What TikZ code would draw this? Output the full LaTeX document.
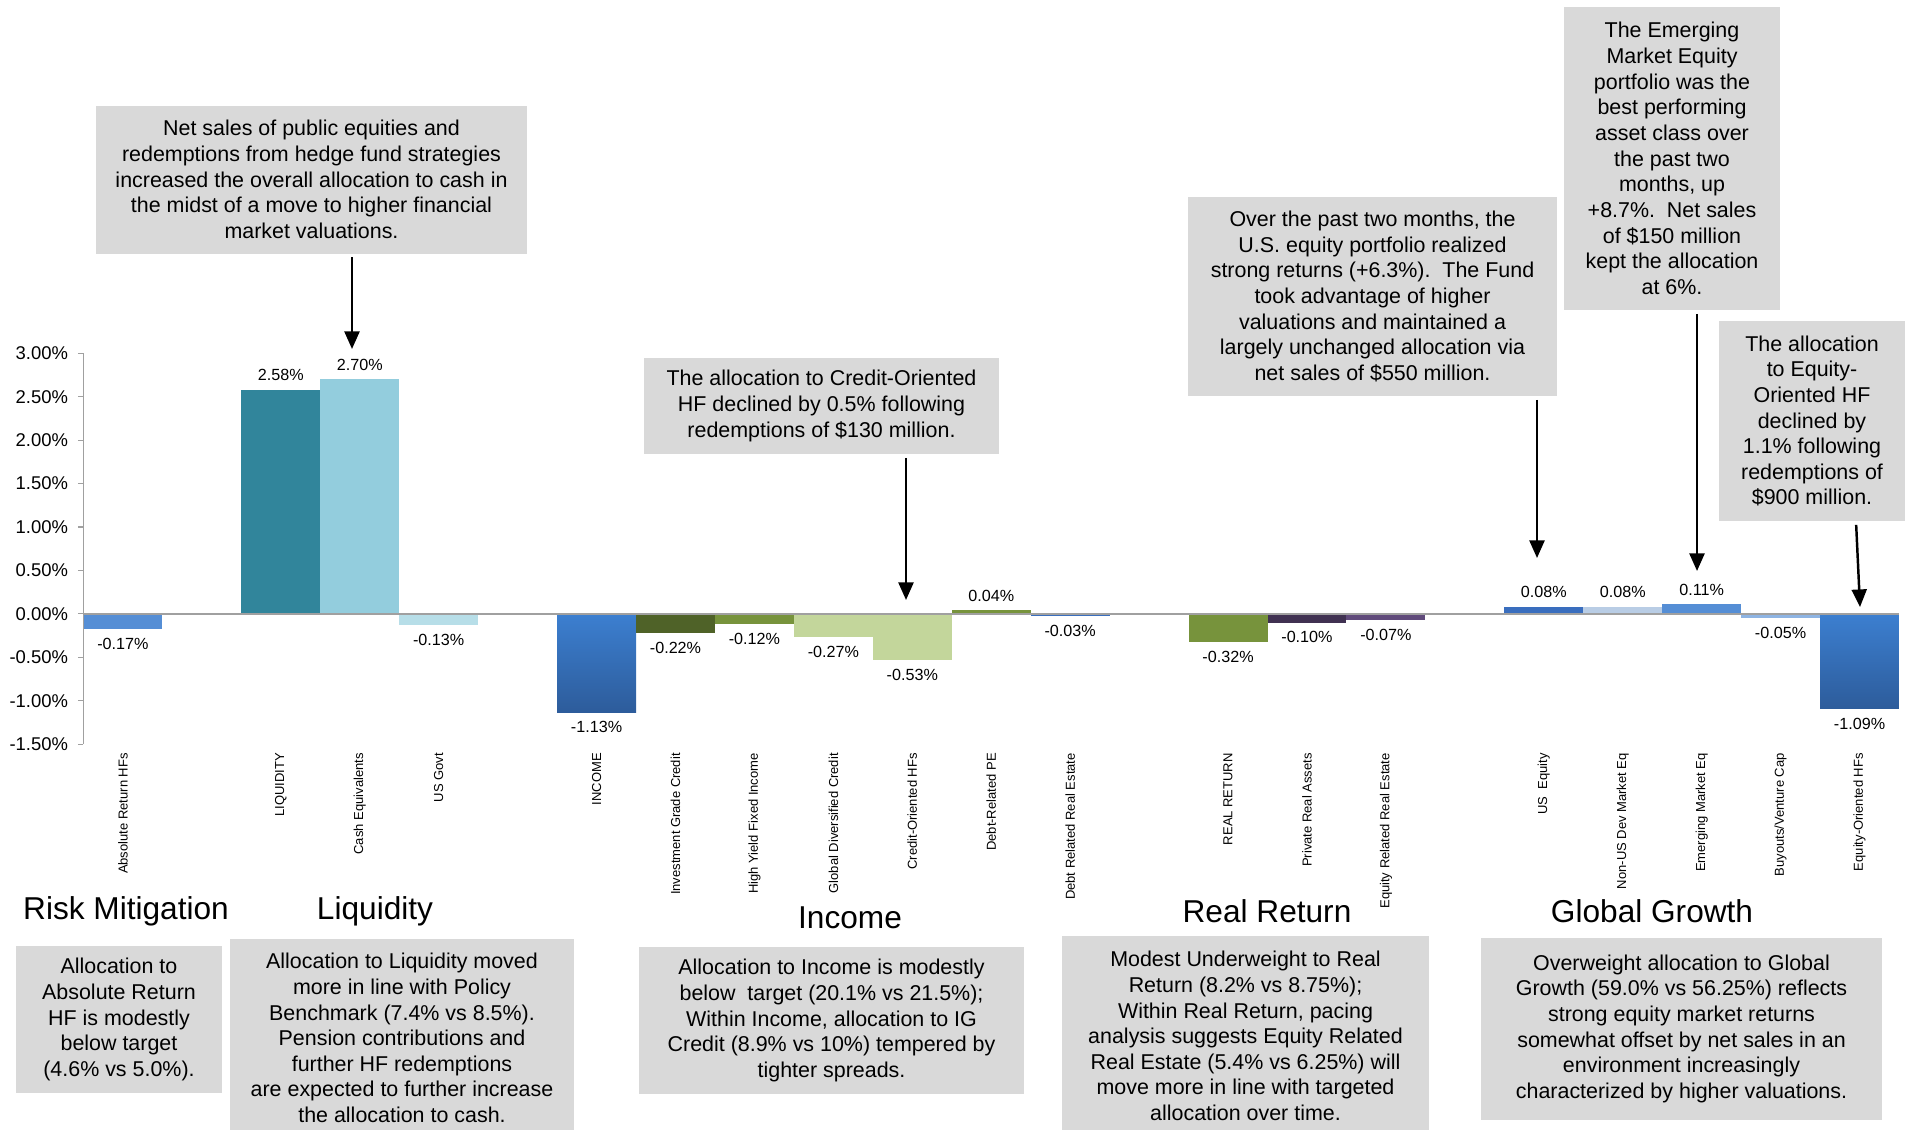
\documentclass[tikz,border=0pt]{standalone}
\usepackage{fontspec}
\setmainfont{Liberation Sans}
\usetikzlibrary{arrows.meta,positioning}
\definecolor{boxgray}{RGB}{217,217,217}
\definecolor{axisgray}{RGB}{160,160,160}
\definecolor{abscol}{RGB}{85,142,213}
\definecolor{liqcol}{RGB}{49,133,155}
\definecolor{cashcol}{RGB}{147,205,221}
\definecolor{govcol}{RGB}{183,222,232}
\definecolor{inctop}{RGB}{60,127,208}
\definecolor{incbot}{RGB}{45,92,155}
\definecolor{igcol}{RGB}{79,98,40}
\definecolor{hycol}{RGB}{119,147,60}
\definecolor{gdccol}{RGB}{195,214,155}
\definecolor{drecol}{RGB}{58,110,190}
\definecolor{pracol}{RGB}{64,49,81}
\definecolor{erecol}{RGB}{96,74,123}
\definecolor{nuscol}{RGB}{185,205,229}
\definecolor{bvcol}{RGB}{142,180,227}
\tikzset{
  callout/.style={fill=boxgray,align=center,inner sep=0pt,font=\fontsize{12.2}{14.6}\selectfont},
  heading/.style={inner sep=0pt,font=\fontsize{18}{21}\selectfont},
  ticklbl/.style={anchor=east,inner sep=1pt,font=\fontsize{10.5}{12}\selectfont},
  valup/.style={anchor=south,inner sep=1pt,yshift=4pt,font=\fontsize{9.2}{11}\selectfont},
  valdown/.style={anchor=north,inner sep=1pt,yshift=-4pt,font=\fontsize{9.2}{11}\selectfont},
  catlbl/.style={rotate=90,anchor=east,inner sep=0pt,font=\fontsize{7.4}{9}\selectfont},
  callarrow/.style={-{Triangle[length=10pt,width=8.5pt]},line width=1.4pt,shorten <=2pt},
  axisline/.style={draw=axisgray,line width=0.6pt},
  zeroline/.style={draw=axisgray,line width=0.9pt},
}

\begin{document}
\begin{tikzpicture}[x=0.02cm,y=-0.02cm]
  \useasboundingbox (0,0) rectangle (1905,1129);

  % CALLOUTS: above the chart
  \node[callout,minimum width=8.62cm,minimum height=2.96cm] (nliq)  at (311.5,179.6) {Net sales of public equities and\\redemptions from hedge fund strategies\\increased the overall allocation to cash in\\the midst of a move to higher financial\\market valuations.};
  \node[callout,minimum width=7.1cm,minimum height=1.92cm]  (ncred) at (821.5,406)   {The allocation to Credit-Oriented\\HF declined by 0.5\% following\\redemptions of \$130 million.};
  \node[callout,minimum width=7.38cm,minimum height=3.98cm] (nuseq) at (1372.5,296.5) {Over the past two months, the\\U.S. equity portfolio realized\\strong returns (+6.3\%).\ \ The Fund\\took advantage of higher\\valuations and maintained a\\largely unchanged allocation via\\net sales of \$550 million.};
  \node[callout,minimum width=4.32cm,minimum height=6.06cm] (nem)   at (1672,158.5) {The Emerging\\Market Equity\\portfolio was the\\best performing\\asset class over\\the past two\\months, up\\+8.7\%.\ \ Net sales\\of \$150 million\\kept the allocation\\at 6\%.};
  \node[callout,minimum width=3.72cm,minimum height=4cm]    (neqhf) at (1812,421)   {The allocation\\to Equity-\\Oriented HF\\declined by\\1.1\% following\\redemptions of\\\$900 million.};

  \coordinate (aliq)  at (352,349);
  \coordinate (acred) at (906,600);
  \coordinate (auseq) at (1537,558);
  \coordinate (aem)   at (1697,571);
  \coordinate (aeqhf) at (1860,607);
  \draw[callarrow] (nliq.south -| aliq)   -- (aliq);
  \draw[callarrow] (ncred.south -| acred) -- (acred);
  \draw[callarrow] (nuseq.south -| auseq) -- (auseq);
  \draw[callarrow] (nem.south -| aem)     -- (aem);
  \draw[callarrow] ([xshift=0.88cm]neqhf.south) -- (aeqhf);

  % CHART: one slot per category, values in percent
  \begin{scope}[shift={(1.67cm,-12.28cm)},x=1.579cm,y=1.738cm]
    % risk mitigation
    \fill[abscol] (0,0) rectangle (1,-0.17);
    \node[valdown] (vabs) at (0.5,-0.17) {-0.17\%};
    % liquidity
    \fill[liqcol]  (2,0) rectangle (3,2.58);
    \fill[cashcol] (3,0) rectangle (4,2.70);
    \fill[govcol]  (4,0) rectangle (5,-0.13);
    \node[valup]   (vliq)  at (2.5,2.58)  {2.58\%};
    \node[valup]   (vcash) at (3.5,2.70)  {2.70\%};
    \node[valdown] (vgov)  at (4.5,-0.13) {-0.13\%};
    % income
    \shade[top color=inctop,bottom color=incbot] (6,0) rectangle (7,-1.13);
    \fill[igcol]  (7,0)  rectangle (8,-0.22);
    \fill[hycol]  (8,0)  rectangle (9,-0.12);
    \fill[gdccol] (9,0)  rectangle (10,-0.27);
    \fill[gdccol] (10,0) rectangle (11,-0.53);
    \fill[hycol]  (11,0) rectangle (12,0.04);
    \fill[drecol] (12,0) rectangle (13,-0.03);
    \node[valdown] (vinc) at (6.5,-1.13)  {-1.13\%};
    \node[valdown] (vig)  at (7.5,-0.22)  {-0.22\%};
    \node[valdown] (vhy)  at (8.5,-0.12)  {-0.12\%};
    \node[valdown] (vgdc) at (9.5,-0.27)  {-0.27\%};
    \node[valdown] (vcro) at (10.5,-0.53) {-0.53\%};
    \node[valup]   (vdpe) at (11.5,0.04)  {0.04\%};
    \node[valdown] (vdre) at (12.5,-0.03) {-0.03\%};
    % real return
    \fill[hycol]  (14,0) rectangle (15,-0.32);
    \fill[pracol] (15,0) rectangle (16,-0.10);
    \fill[erecol] (16,0) rectangle (17,-0.07);
    \node[valdown] (vrr)  at (14.5,-0.32) {-0.32\%};
    \node[valdown] (vpra) at (15.5,-0.10) {-0.10\%};
    \node[valdown] (vere) at (16.5,-0.07) {-0.07\%};
    % global growth
    \fill[drecol] (18,0) rectangle (19,0.08);
    \fill[nuscol] (19,0) rectangle (20,0.08);
    \fill[abscol] (20,0) rectangle (21,0.11);
    \fill[bvcol]  (21,0) rectangle (22,-0.05);
    \shade[top color=inctop,bottom color=incbot] (22,0) rectangle (23,-1.09);
    \node[valup]   (vuse) at (18.5,0.08)  {0.08\%};
    \node[valup]   (vnus) at (19.5,0.08)  {0.08\%};
    \node[valup]   (vem)  at (20.5,0.11)  {0.11\%};
    \node[valdown] (vbv)  at (21.5,-0.05) {-0.05\%};
    \node[valdown] (veqh) at (22.5,-1.09) {-1.09\%};

    % axis
    \draw[zeroline] (0,0) -- (23,0);
    \draw[axisline] (0,-1.5) -- (0,3);
    \draw[axisline] (-0.07,3) -- (0,3) (-0.07,2.5) -- (0,2.5) (-0.07,2) -- (0,2)
      (-0.07,1.5) -- (0,1.5) (-0.07,1) -- (0,1) (-0.07,0.5) -- (0,0.5) (-0.07,0) -- (0,0)
      (-0.07,-0.5) -- (0,-0.5) (-0.07,-1) -- (0,-1) (-0.07,-1.5) -- (0,-1.5);
    \node[ticklbl] (t300) at (-0.17,3)    {3.00\%};
    \node[ticklbl] (t250) at (-0.17,2.5)  {2.50\%};
    \node[ticklbl] (t200) at (-0.17,2)    {2.00\%};
    \node[ticklbl] (t150) at (-0.17,1.5)  {1.50\%};
    \node[ticklbl] (t100) at (-0.17,1)    {1.00\%};
    \node[ticklbl] (t050) at (-0.17,0.5)  {0.50\%};
    \node[ticklbl] (t000) at (-0.17,0)    {0.00\%};
    \node[ticklbl] (m050) at (-0.17,-0.5) {-0.50\%};
    \node[ticklbl] (m100) at (-0.17,-1)   {-1.00\%};
    \node[ticklbl] (m150) at (-0.17,-1.5) {-1.50\%};

    % category names
    \node[catlbl] (cabs)  at (0.5,-1.6)  {Absolute Return HFs};
    \node[catlbl] (cliq)  at (2.5,-1.6)  {LIQUIDITY};
    \node[catlbl] (ccash) at (3.5,-1.6)  {Cash Equivalents};
    \node[catlbl] (cgov)  at (4.5,-1.6)  {US Govt};
    \node[catlbl] (cinc)  at (6.5,-1.6)  {INCOME};
    \node[catlbl] (cig)   at (7.5,-1.6)  {Investment Grade Credit};
    \node[catlbl] (chy)   at (8.5,-1.6)  {High Yield Fixed Income};
    \node[catlbl] (cgdc)  at (9.5,-1.6)  {Global Diversified Credit};
    \node[catlbl] (ccro)  at (10.5,-1.6) {Credit-Oriented HFs};
    \node[catlbl] (cdpe)  at (11.5,-1.6) {Debt-Related PE};
    \node[catlbl] (cdre)  at (12.5,-1.6) {Debt Related Real Estate};
    \node[catlbl] (crr)   at (14.5,-1.6) {REAL RETURN};
    \node[catlbl] (cpra)  at (15.5,-1.6) {Private Real Assets};
    \node[catlbl] (cere)  at (16.5,-1.6) {Equity Related Real Estate};
    \node[catlbl] (cuse)  at (18.5,-1.6) {US\ \ Equity};
    \node[catlbl] (cnus)  at (19.5,-1.6) {Non-US Dev Market Eq};
    \node[catlbl] (cem)   at (20.5,-1.6) {Emerging Market Eq};
    \node[catlbl] (cbv)   at (21.5,-1.6) {Buyouts/Venture Cap};
    \node[catlbl] (ceqh)  at (22.5,-1.6) {Equity-Oriented HFs};
  \end{scope}

  % SECTIONS: headings and summaries
  \node[heading] (hrisk) at (126,911)  {Risk Mitigation};
  \node[heading] (hliq)  at (375,911)  {Liquidity};
  \node[heading] (hinc)  at (850,918)  {Income};
  \node[heading] (hrr)   at (1267,911) {Real Return};
  \node[heading] (hgg)   at (1652,911) {Global Growth};

  \node[callout,minimum width=4.13cm,minimum height=2.94cm] (srisk) at (119,1019.5) {Allocation to\\Absolute Return\\HF is modestly\\below target\\(4.6\% vs 5.0\%).};
  \node[callout,minimum width=6.9cm,minimum height=3.96cm]  (sliq)  at (402,1038)   {Allocation to Liquidity moved\\more in line with Policy\\Benchmark (7.4\% vs 8.5\%).\\Pension contributions and\\further HF redemptions\\are expected to further increase\\the allocation to cash.};
  \node[callout,minimum width=7.7cm,minimum height=2.94cm]  (sinc)  at (831.5,1020.5) {Allocation to Income is modestly\\below\ \ target (20.1\% vs 21.5\%);\\Within Income, allocation to IG\\Credit (8.9\% vs 10\%) tempered by\\tighter spreads.};
  \node[callout,minimum width=7.34cm,minimum height=4cm]    (srr)   at (1245.5,1036) {Modest Underweight to Real\\Return (8.2\% vs 8.75\%);\\Within Real Return, pacing\\analysis suggests Equity Related\\Real Estate (5.4\% vs 6.25\%) will\\move more in line with targeted\\allocation over time.};
  \node[callout,minimum width=8.02cm,minimum height=3.65cm] (sgg)   at (1681.5,1028.8) {Overweight allocation to Global\\Growth (59.0\% vs 56.25\%) reflects\\strong equity market returns\\somewhat offset by net sales in an\\environment increasingly\\characterized by higher valuations.};

\end{tikzpicture}
\end{document}
